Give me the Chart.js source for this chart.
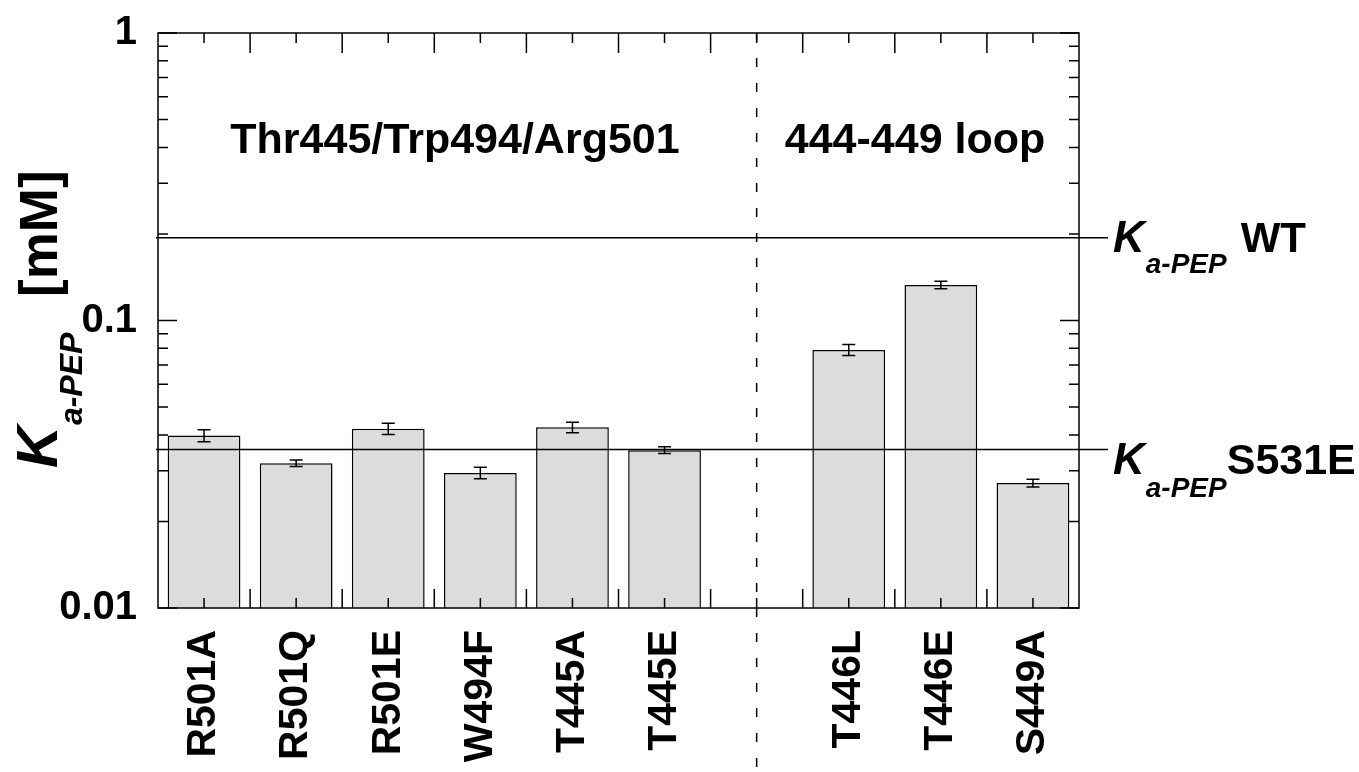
<!DOCTYPE html>
<html>
<head>
<meta charset="utf-8">
<script src="https://cdn.jsdelivr.net/npm/chart.js@4.4.1/dist/chart.umd.min.js"></script>
<style>
  body { margin: 0; background: #fff; }
  canvas { display: block; }
</style>
</head>
<body>
<canvas id="grafico" width="1359" height="772"></canvas>
<script>
// mutantes (posição vazia = separação entre os grupos)
const categorias = ['R501A', 'R501Q', 'R501E', 'W494F', 'T445A', 'T445E', '', 'T446L', 'T446E', 'S449A'];
const kaPep = [0.0398, 0.0319, 0.0420, 0.0295, 0.0425, 0.0354, null, 0.0790, 0.1329, 0.0272];
const kaPepErro = [0.0019, 0.00085, 0.0019, 0.00135, 0.0018, 0.00095, null, 0.0035, 0.0040, 0.00083];
const kaPepWT = 0.194;
const kaPepS531E = 0.0356;
const ticksY = [0.01, 0.1, 1];
const grupos = ['Thr445/Trp494/Arg501', '444-449 loop'];
const indiceSeparador = 6;

const FONTE = '"Liberation Sans", Arial, sans-serif';

// desenha K com subscrito a-PEP e o resto do texto
function textoK(ctx, x, y, tamK, tamSub, descida, resto, espaco, tamResto) {
  ctx.font = 'italic bold ' + tamK + 'px ' + FONTE;
  ctx.fillText('K', x, y);
  x += ctx.measureText('K').width + 1;
  ctx.font = 'italic bold ' + tamSub + 'px ' + FONTE;
  ctx.fillText('a-PEP', x, y + descida);
  x += ctx.measureText('a-PEP').width + espaco;
  ctx.font = 'bold ' + tamResto + 'px ' + FONTE;
  ctx.fillText(resto, x, y);
}

const decoracao = {
  id: 'decoracao',
  afterDatasetsDraw(chart) {
    const ctx = chart.ctx;
    const area = chart.chartArea;
    const x = chart.scales.x;
    const y = chart.scales.y;
    ctx.save();
    ctx.strokeStyle = '#000';
    ctx.fillStyle = '#000';
    ctx.lineWidth = 1.5;

    // barras de erro
    const meta = chart.getDatasetMeta(0);
    meta.data.forEach((barra, i) => {
      if (kaPep[i] == null) return;
      const cx = barra.x;
      const y1 = y.getPixelForValue(kaPep[i] + kaPepErro[i]);
      const y2 = y.getPixelForValue(kaPep[i] - kaPepErro[i]);
      ctx.beginPath();
      ctx.moveTo(cx, y1); ctx.lineTo(cx, y2);
      ctx.moveTo(cx - 6.5, y1); ctx.lineTo(cx + 6.5, y1);
      ctx.moveTo(cx - 6.5, y2); ctx.lineTo(cx + 6.5, y2);
      ctx.stroke();
    });

    // linhas de referência WT e S531E
    [kaPepWT, kaPepS531E].forEach(v => {
      const py = y.getPixelForValue(v);
      ctx.beginPath();
      ctx.moveTo(area.left - 2, py);
      ctx.lineTo(area.right + 29, py);
      ctx.stroke();
    });

    // moldura
    ctx.strokeRect(area.left, area.top, area.right - area.left, area.bottom - area.top);

    // ticks do eixo y (para dentro, dos dois lados)
    for (let d = 0; d < ticksY.length; d++) {
      const dec = ticksY[d];
      const py = y.getPixelForValue(dec);
      ctx.beginPath();
      ctx.moveTo(area.left, py); ctx.lineTo(area.left + 19, py);
      ctx.moveTo(area.right, py); ctx.lineTo(area.right - 19, py);
      ctx.stroke();
      if (d < ticksY.length - 1) {
        for (let k = 2; k <= 9; k++) {
          const pm = y.getPixelForValue(dec * k);
          ctx.beginPath();
          ctx.moveTo(area.left, pm); ctx.lineTo(area.left + 10, pm);
          ctx.moveTo(area.right, pm); ctx.lineTo(area.right - 10, pm);
          ctx.stroke();
        }
      }
    }

    // ticks do eixo x: curtos nos centros, longos nas divisões
    for (let i = 0; i < categorias.length; i++) {
      const px = x.getPixelForValue(i);
      ctx.beginPath();
      ctx.moveTo(px, area.bottom); ctx.lineTo(px, area.bottom - 10);
      ctx.moveTo(px, area.top); ctx.lineTo(px, area.top + 10);
      ctx.stroke();
      if (i > 0) {
        const pb = (px + x.getPixelForValue(i - 1)) / 2;
        ctx.beginPath();
        ctx.moveTo(pb, area.bottom); ctx.lineTo(pb, area.bottom - 19);
        ctx.moveTo(pb, area.top); ctx.lineTo(pb, area.top + 20);
        ctx.stroke();
      }
    }

    // separador tracejado
    const ps = x.getPixelForValue(indiceSeparador);
    ctx.setLineDash([9, 16]);
    ctx.beginPath();
    ctx.moveTo(ps, area.top);
    ctx.lineTo(ps, chart.height);
    ctx.stroke();
    ctx.setLineDash([]);

    // nomes dos grupos
    ctx.textAlign = 'center';
    ctx.textBaseline = 'alphabetic';
    ctx.font = 'bold 43px ' + FONTE;
    ctx.fillText(grupos[0], area.left + 297, area.top + 120);
    ctx.fillText(grupos[1], area.left + 757, area.top + 120);

    // rótulos à direita
    ctx.textAlign = 'left';
    const yWT = y.getPixelForValue(kaPepWT);
    const yS = y.getPixelForValue(kaPepS531E);
    textoK(ctx, area.right + 34, yWT + 14, 44, 28, 21, 'WT', 14, 42);
    textoK(ctx, area.right + 34, yS + 25, 44, 28, 23, 'S531E', 0, 43);

    // título do eixo y (rotacionado)
    ctx.save();
    ctx.translate(57, 468);
    ctx.rotate(-Math.PI / 2);
    ctx.font = 'italic bold 58px ' + FONTE;
    ctx.fillText('K', 0, 0);
    const wK = ctx.measureText('K').width;
    ctx.font = 'italic bold 32px ' + FONTE;
    ctx.fillText('a-PEP', wK + 1, 25);
    ctx.font = 'bold 53px ' + FONTE;
    ctx.fillText('[mM]', 468 - 297, 0);
    ctx.restore();

    ctx.restore();
  }
};

new Chart(document.getElementById('grafico'), {
  type: 'bar',
  data: {
    labels: categorias,
    datasets: [{
      data: kaPep,
      backgroundColor: '#dcdcdc',
      borderColor: '#000',
      borderWidth: 1.5,
      barPercentage: 0.79,
      categoryPercentage: 1.0
    }]
  },
  options: {
    responsive: false,
    animation: false,
    layout: { padding: { top: 33, right: 280, left: 0, bottom: 0 } },
    plugins: { legend: { display: false }, tooltip: { enabled: false } },
    scales: {
      x: {
        grid: { display: false, drawTicks: false },
        border: { display: false },
        ticks: {
          autoSkip: false,
          minRotation: 90,
          maxRotation: 90,
          padding: 22,
          color: '#000',
          font: { family: FONTE, size: 41, weight: 'bold' }
        },
        afterFit(scale) { scale.height = 164; }
      },
      y: {
        type: 'logarithmic',
        min: 0.01,
        max: 1,
        grid: { display: false, drawTicks: false },
        border: { display: false },
        afterBuildTicks(scale) {
          scale.ticks = ticksY.map(v => ({ value: v, major: true }));
        },
        ticks: {
          padding: 21,
          color: '#000',
          font: { family: FONTE, size: 40, weight: 'bold' },
          callback: v => String(v)
        },
        afterFit(scale) {
          scale.width = 158;
          scale.paddingTop = 12;
          scale.paddingBottom = 12;
        }
      }
    }
  },
  plugins: [decoracao]
});
</script>
</body>
</html>
